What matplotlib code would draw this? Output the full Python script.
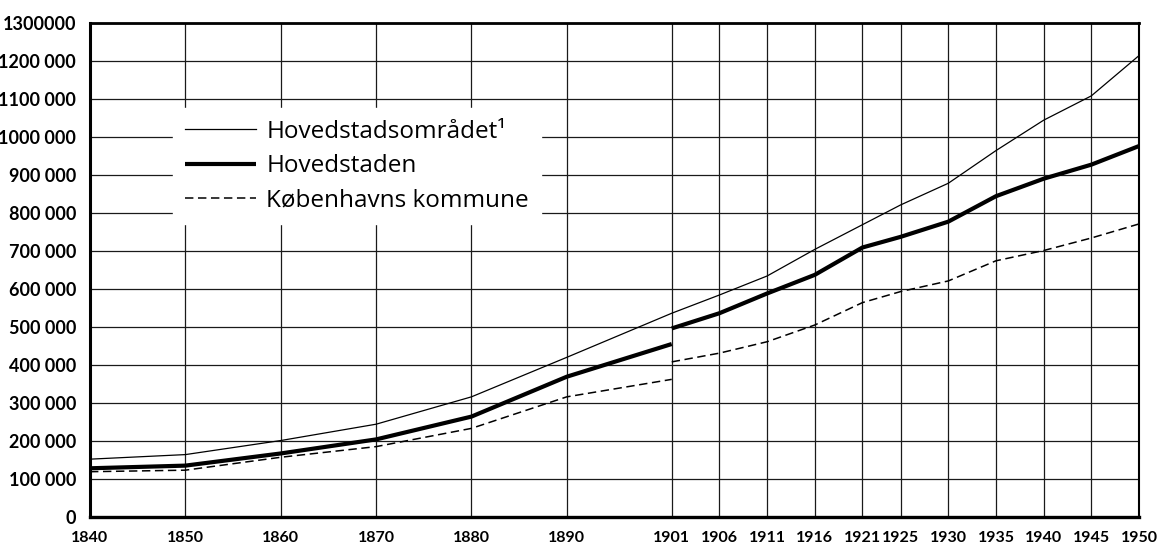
import matplotlib
matplotlib.use("Agg")
import matplotlib.pyplot as plt
from matplotlib.lines import Line2D

# ---- data (thousands of inhabitants) ----
years_old = [1840, 1850, 1860, 1870, 1880, 1890, 1901]
years_new = [1901, 1906, 1911, 1916, 1921, 1925, 1930, 1935, 1940, 1945, 1950]
years_all = years_old + years_new[1:]

omraadet = [153, 165, 202, 245, 317, 421, 537,
            585, 635, 705, 770, 822, 879, 965, 1045, 1109, 1215]
hovedstaden_old = [129, 136, 168, 205, 265, 370, 456]
hovedstaden_new = [497, 537, 589, 638, 710, 738, 778, 845, 891, 928, 977]
kbh_old = [120, 124, 158, 186, 234, 317, 363]
kbh_new = [409, 432, 462, 506, 565, 594, 622, 675, 702, 735, 772]

x_ticks = [1840, 1850, 1860, 1870, 1880, 1890, 1901, 1906, 1911, 1916,
           1921, 1925, 1930, 1935, 1940, 1945, 1950]
y_ticks = [0, 100000, 200000, 300000, 400000, 500000, 600000, 700000,
           800000, 900000, 1000000, 1100000, 1200000, 1300000]
y_labels = ["0", "100 000", "200 000", "300 000", "400 000", "500 000",
            "600 000", "700 000", "800 000", "900 000", "1000 000",
            "1100 000", "1200 000", "1300000"]

labels = ["Hovedstadsområdet¹", "Hovedstaden", "Københavns kommune"]

K = 1000
W, H = 1159, 549
fig = plt.figure(figsize=(W / 100, H / 100), dpi=100)
ax = fig.add_axes([90 / W, (H - 517.3) / H, 1049 / W, 494 / H])

ytick_font = dict(family=["Lato", "DejaVu Sans"], weight="bold", size=13)
xtick_font = dict(family=["Lato", "DejaVu Sans"], weight="bold", size=11.5)

DASH = (5.5, 3.0)
ax.plot(years_all, [v * K for v in omraadet], color="black", lw=0.9, zorder=3)
ax.plot(years_old, [v * K for v in hovedstaden_old], color="black", lw=3.0,
        solid_capstyle="butt", zorder=3)
ax.plot(years_new, [v * K for v in hovedstaden_new], color="black", lw=3.0,
        solid_capstyle="butt", zorder=3)
ax.plot(years_old, [v * K for v in kbh_old], color="black", lw=1.1,
        dashes=DASH, zorder=3)
ax.plot(years_new, [v * K for v in kbh_new], color="black", lw=1.1,
        dashes=DASH, zorder=3)

ax.set_xlim(1840, 1950)
ax.set_ylim(0, 1300000)
ax.set_xticks(x_ticks)
ax.set_xticklabels([str(t) for t in x_ticks], fontdict=xtick_font)
ax.set_yticks(y_ticks)
ax.set_yticklabels(y_labels, fontdict=ytick_font)
ax.tick_params(axis="both", length=0)
ax.tick_params(axis="x", pad=10)
ax.tick_params(axis="y", pad=10)
ax.grid(True, color="#1a1a1a", lw=0.9)
ax.set_axisbelow(True)

for side, lw in [("left", 2.2), ("bottom", 2.4), ("top", 2.0), ("right", 1.5)]:
    ax.spines[side].set_linewidth(lw)
    ax.spines[side].set_color("black")

handles = [
    Line2D([], [], color="black", lw=0.9),
    Line2D([], [], color="black", lw=3.0, solid_capstyle="butt"),
    Line2D([], [], color="black", lw=1.1, dashes=DASH),
]
leg = ax.legend(handles, labels, loc="upper left",
                bbox_to_anchor=(0.079, 0.829), borderaxespad=0,
                frameon=True, fancybox=False, framealpha=1,
                edgecolor="white", facecolor="white",
                prop=dict(family=["Open Sans", "DejaVu Sans"], size=17.5),
                handlelength=2.9, handletextpad=0.45, labelspacing=0.42,
                borderpad=0.5)
leg.set_zorder(5)

fig.savefig("out.png", dpi=100, facecolor="white")
